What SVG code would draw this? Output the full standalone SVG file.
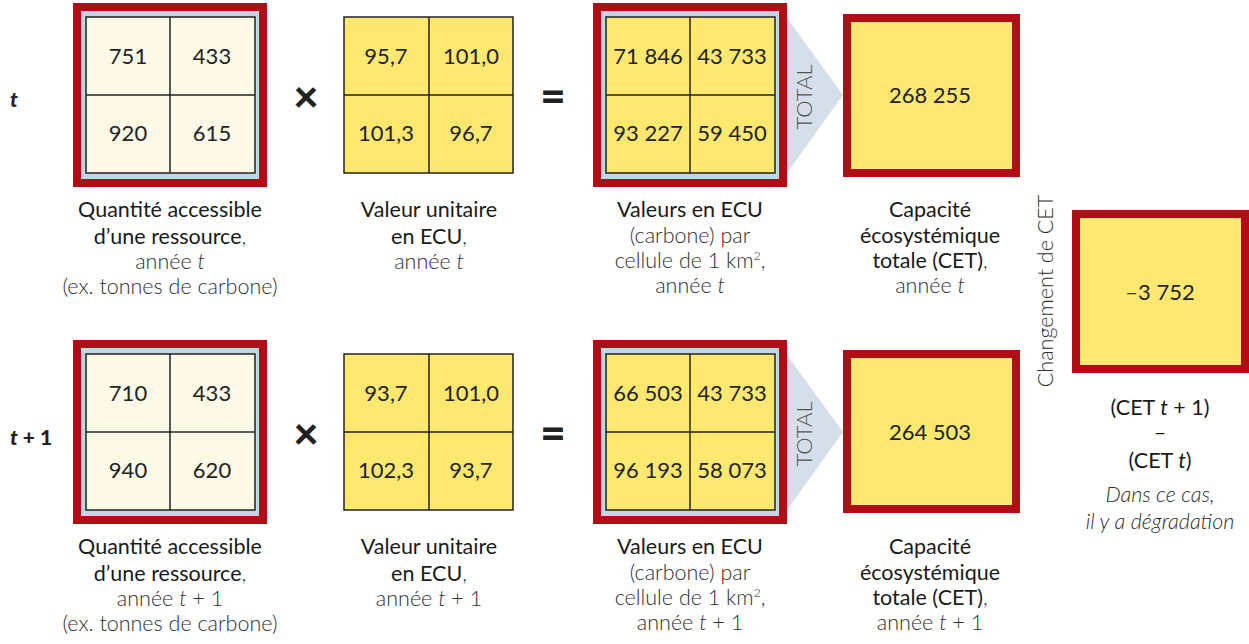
<svg xmlns="http://www.w3.org/2000/svg" width="1249" height="644" viewBox="0 0 1249 644">
<style>
text{font-family:Lato,"Open Sans","Liberation Sans",sans-serif;}
.red{fill:#B00D17;}
.blue{fill:#C6D4E3;}
.cream{fill:#FDF9E7;stroke:#222;stroke-width:1.5;}
.yel{fill:#FFE870;stroke:#222;stroke-width:1.5;}
.yelf{fill:#FFE870;}
.ln{stroke:#222;stroke-width:1.5;}
.num{font-size:22px;fill:#222;text-anchor:middle;}
.ttl{font-size:21.5px;fill:#1a1a1a;text-anchor:middle;}
.lt{font-size:21.5px;fill:#2e2e2e;text-anchor:middle;font-weight:300;}
.op{font-size:44px;font-weight:900;fill:#222;text-anchor:middle;}
.row{font-size:21px;font-weight:900;fill:#222;}
.tot{font-size:22px;fill:#555;text-anchor:middle;font-weight:300;}
.arrow{fill:#D5DFEA;}
</style>

<g id="connectors">
  <polygon class="arrow" points="787,18 843,95 787,173"/>
  <polygon class="arrow" points="787,355 843,432 787,510"/>
  <text class="tot" transform="translate(812,97) rotate(-90)">TOTAL</text>
  <text class="tot" transform="translate(812,434) rotate(-90)">TOTAL</text>
</g>

<g id="row-labels">
  <text class="row" x="10" y="107" font-style="italic">t</text>
  <text class="row" x="10" y="445"><tspan font-style="italic">t</tspan> + 1</text>
</g>

<g id="operators">
  <text class="op" x="306" y="112">×</text>
  <text class="op" x="553" y="112">=</text>
  <text class="op" x="306" y="449">×</text>
  <text class="op" x="553" y="449">=</text>
</g>

<!-- Row t -->
<g id="qty-t">
  <rect class="red" x="73" y="3" width="194" height="184"/>
  <rect class="blue" x="81" y="11" width="178" height="168"/>
  <rect class="cream" x="86" y="17" width="169" height="156"/>
  <line class="ln" x1="170" y1="17" x2="170" y2="173"/>
  <line class="ln" x1="86" y1="95" x2="255" y2="95"/>
  <text class="num" x="128" y="64">751</text>
  <text class="num" x="212" y="64">433</text>
  <text class="num" x="128" y="141">920</text>
  <text class="num" x="212" y="141">615</text>
  <text class="ttl" x="170" y="217">Quantité accessible</text>
  <text class="ttl" x="170" y="244">d’une ressource<tspan class="lt">,</tspan></text>
  <text class="lt" x="170" y="269">année <tspan font-style="italic">t</tspan></text>
  <text class="lt" x="170" y="294">(ex. tonnes de carbone)</text>
</g>

<g id="unit-t">
  <rect class="yel" x="344" y="17" width="169" height="156"/>
  <line class="ln" x1="429" y1="17" x2="429" y2="173"/>
  <line class="ln" x1="344" y1="95" x2="513" y2="95"/>
  <text class="num" x="386" y="64">95,7</text>
  <text class="num" x="471" y="64">101,0</text>
  <text class="num" x="386" y="141">101,3</text>
  <text class="num" x="471" y="141">96,7</text>
  <text class="ttl" x="429" y="217">Valeur unitaire</text>
  <text class="ttl" x="429" y="244">en ECU<tspan class="lt">,</tspan></text>
  <text class="lt" x="429" y="269">année <tspan font-style="italic">t</tspan></text>
</g>

<g id="ecu-t">
  <rect class="red" x="593" y="3" width="194" height="184"/>
  <rect class="blue" x="601" y="11" width="178" height="168"/>
  <rect class="yel" x="606" y="17" width="169" height="156"/>
  <line class="ln" x1="690" y1="17" x2="690" y2="173"/>
  <line class="ln" x1="606" y1="95" x2="775" y2="95"/>
  <text class="num" x="648" y="64">71 846</text>
  <text class="num" x="732" y="64">43 733</text>
  <text class="num" x="648" y="141">93 227</text>
  <text class="num" x="732" y="141">59 450</text>
  <text class="ttl" x="690" y="217">Valeurs en ECU</text>
  <text class="lt" x="690" y="243">(carbone) par</text>
  <text class="lt" x="690" y="268">cellule de 1 km<tspan font-size="12" dy="-8">2</tspan><tspan dy="8">,</tspan></text>
  <text class="lt" x="690" y="293">année <tspan font-style="italic">t</tspan></text>
</g>

<g id="cet-t">
  <rect class="red" x="843" y="14" width="177" height="163"/>
  <rect class="yelf" x="851" y="22" width="161" height="147"/>
  <text class="num" x="930" y="103">268 255</text>
  <text class="ttl" x="930" y="217">Capacité</text>
  <text class="ttl" x="930" y="243">écosystémique</text>
  <text class="ttl" x="930" y="268">totale (CET)<tspan class="lt">,</tspan></text>
  <text class="lt" x="930" y="293">année <tspan font-style="italic">t</tspan></text>
</g>

<!-- Row t+1 -->
<g id="qty-t1">
  <rect class="red" x="73" y="340" width="194" height="184"/>
  <rect class="blue" x="81" y="348" width="178" height="168"/>
  <rect class="cream" x="86" y="354" width="169" height="156"/>
  <line class="ln" x1="170" y1="354" x2="170" y2="510"/>
  <line class="ln" x1="86" y1="432" x2="255" y2="432"/>
  <text class="num" x="128" y="401">710</text>
  <text class="num" x="212" y="401">433</text>
  <text class="num" x="128" y="478">940</text>
  <text class="num" x="212" y="478">620</text>
  <text class="ttl" x="170" y="554">Quantité accessible</text>
  <text class="ttl" x="170" y="581">d’une ressource<tspan class="lt">,</tspan></text>
  <text class="lt" x="170" y="606">année <tspan font-style="italic">t</tspan> + 1</text>
  <text class="lt" x="170" y="631">(ex. tonnes de carbone)</text>
</g>

<g id="unit-t1">
  <rect class="yel" x="344" y="354" width="169" height="156"/>
  <line class="ln" x1="429" y1="354" x2="429" y2="510"/>
  <line class="ln" x1="344" y1="432" x2="513" y2="432"/>
  <text class="num" x="386" y="401">93,7</text>
  <text class="num" x="471" y="401">101,0</text>
  <text class="num" x="386" y="478">102,3</text>
  <text class="num" x="471" y="478">93,7</text>
  <text class="ttl" x="429" y="554">Valeur unitaire</text>
  <text class="ttl" x="429" y="581">en ECU<tspan class="lt">,</tspan></text>
  <text class="lt" x="429" y="606">année <tspan font-style="italic">t</tspan> + 1</text>
</g>

<g id="ecu-t1">
  <rect class="red" x="593" y="340" width="194" height="184"/>
  <rect class="blue" x="601" y="348" width="178" height="168"/>
  <rect class="yel" x="606" y="354" width="169" height="156"/>
  <line class="ln" x1="690" y1="354" x2="690" y2="510"/>
  <line class="ln" x1="606" y1="432" x2="775" y2="432"/>
  <text class="num" x="648" y="401">66 503</text>
  <text class="num" x="732" y="401">43 733</text>
  <text class="num" x="648" y="478">96 193</text>
  <text class="num" x="732" y="478">58 073</text>
  <text class="ttl" x="690" y="554">Valeurs en ECU</text>
  <text class="lt" x="690" y="580">(carbone) par</text>
  <text class="lt" x="690" y="605">cellule de 1 km<tspan font-size="12" dy="-8">2</tspan><tspan dy="8">,</tspan></text>
  <text class="lt" x="690" y="630">année <tspan font-style="italic">t</tspan> + 1</text>
</g>

<g id="cet-t1">
  <rect class="red" x="843" y="350" width="177" height="163"/>
  <rect class="yelf" x="851" y="358" width="161" height="147"/>
  <text class="num" x="930" y="440">264 503</text>
  <text class="ttl" x="930" y="554">Capacité</text>
  <text class="ttl" x="930" y="580">écosystémique</text>
  <text class="ttl" x="930" y="605">totale (CET)<tspan class="lt">,</tspan></text>
  <text class="lt" x="930" y="630">année <tspan font-style="italic">t</tspan> + 1</text>
</g>

<g id="change">
  <text class="lt" font-size="23.5" transform="translate(1053,291) rotate(-90)">Changement de CET</text>
  <rect class="red" x="1072" y="210" width="178" height="163"/>
  <rect class="yelf" x="1080" y="218" width="161" height="147"/>
  <text class="num" x="1160" y="300">–3 752</text>
  <text class="ttl" x="1160" y="415" font-size="24">(CET <tspan font-style="italic">t</tspan> + 1)</text>
  <text class="ttl" x="1160" y="440" font-size="24">–</text>
  <text class="ttl" x="1160" y="468" font-size="24">(CET <tspan font-style="italic">t</tspan>)</text>
  <text class="lt" x="1160" y="502" font-style="italic" font-size="20.5">Dans ce cas,</text>
  <text class="lt" x="1160" y="529" font-style="italic" font-size="20.5">il y a dégradation</text>
</g>
</svg>
